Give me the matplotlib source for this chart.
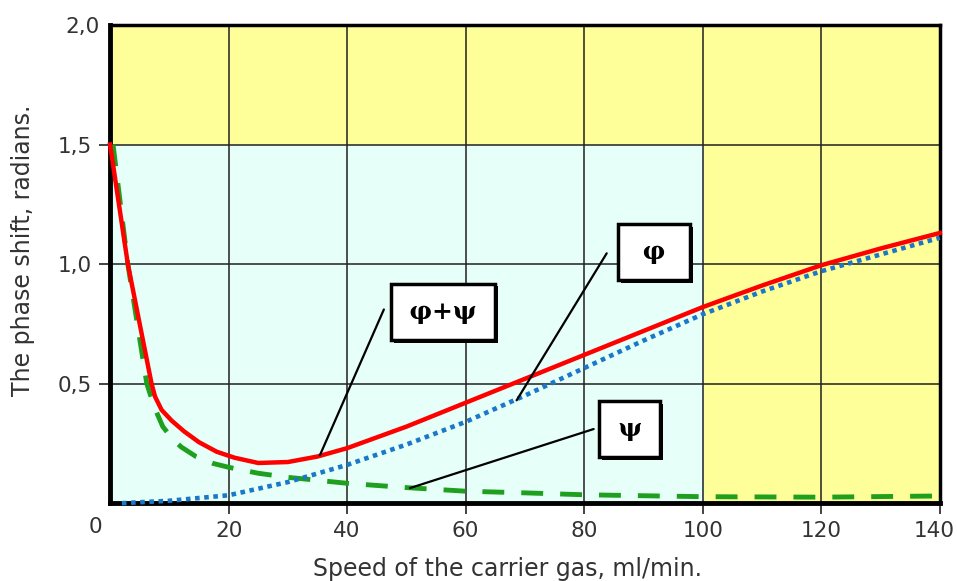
import matplotlib
matplotlib.use("Agg")
import matplotlib.pyplot as plt
import matplotlib.patheffects as pe
import matplotlib.transforms as mtransforms
from matplotlib.ticker import FuncFormatter

# values
speed_sum = [0, 3, 7, 7.6, 8.7, 10.4, 12.5, 15, 18, 21, 25, 30, 35, 40, 50, 60, 70, 80, 90, 100,
             110, 120, 130, 140]
phi_psi = [1.5, 1.0, 0.5, 0.445, 0.39, 0.345, 0.3, 0.255, 0.215, 0.19, 0.168, 0.172, 0.195, 0.23,
           0.32, 0.42, 0.52, 0.62, 0.72, 0.82, 0.91, 0.995, 1.065, 1.13]

speed_phi = [2, 10, 20, 30, 40, 50, 60, 70, 80, 90, 100, 110, 120, 130, 140]
phi = [0.0, 0.01, 0.033, 0.088, 0.16, 0.245, 0.34, 0.45, 0.565, 0.68, 0.79, 0.885, 0.97, 1.04, 1.11]

speed_psi = [0.5, 3, 6.2, 7.5, 8.9, 10.5, 12, 14.5, 17.4, 20, 25, 30, 40, 50, 60, 70, 80, 100, 120, 140]
psi = [1.5, 1.0, 0.5, 0.4, 0.32, 0.27, 0.235, 0.195, 0.166, 0.15, 0.125, 0.108, 0.083, 0.065, 0.05,
       0.043, 0.035, 0.027, 0.025, 0.03]

x_ticks = [20, 40, 60, 80, 100, 120, 140]
y_ticks = [0.5, 1.0, 1.5, 2.0]

# label boxes: text, box centre, leader start, point on curve
labels = [
    ("\u200aφ+ψ\u200a", (56.2, 0.80), (46.2, 0.81), (35.4, 0.20)),
    (" φ ", (91.8, 1.05), (83.8, 1.045), (68.6, 0.43)),
    ("\u200aψ\u200a", (87.7, 0.31), (81.6, 0.31), (50.6, 0.063)),
]

fig = plt.figure(figsize=(9.57, 5.81), dpi=100)
ax = fig.add_axes([0.115, 0.134, 0.867, 0.823])
ax.set_facecolor("#ffff99")
ax.axvspan(0, 100, ymin=0, ymax=0.75, color="#e6fff8", zorder=0)

ax.set_xlim(0, 140)
ax.set_ylim(0, 2.0)
ax.set_xticks(x_ticks)
ax.set_yticks(y_ticks)
ax.xaxis.set_major_formatter(FuncFormatter(lambda v, p: "%d" % v))
ax.yaxis.set_major_formatter(FuncFormatter(lambda v, p: ("%.1f" % v).replace(".", ",")))
ax.tick_params(axis="both", length=8, width=1.2, color="#222222", labelsize=15.5,
               labelcolor="#333333", direction="out")
ax.tick_params(axis="x", pad=5)
ax.tick_params(axis="y", pad=5)
ax.yaxis.get_major_ticks()[-1].tick1line.set_visible(False)

# nudge the end labels the way the reference has them
fig.canvas.draw()
ax.get_xticklabels()[-1].set_transform(
    ax.get_xticklabels()[-1].get_transform() + mtransforms.ScaledTranslation(-6 / 100, 0, fig.dpi_scale_trans))
ax.get_yticklabels()[-1].set_transform(
    ax.get_yticklabels()[-1].get_transform() + mtransforms.ScaledTranslation(8 / 100, 0, fig.dpi_scale_trans))

ax.grid(True, color="#222222", lw=1.3, alpha=0.85, zorder=1)
ax.set_axisbelow(True)
for side in ["left", "bottom"]:
    ax.spines[side].set_linewidth(3.5)
for side in ["top", "right"]:
    ax.spines[side].set_linewidth(2.5)

ax.plot(speed_psi, psi, color="#1ea01e", lw=3.5, dashes=(4.5, 3.5), zorder=3, clip_on=False)
ax.plot(speed_phi, phi, color="#1b78c8", lw=3.3, linestyle=(0, (1, 1)), zorder=3, clip_on=False)
ax.plot(speed_sum, phi_psi, color="#ff0000", lw=3.2, zorder=4, clip_on=False)

for txt, box_xy, line_start, line_end in labels:
    ax.annotate("", xy=line_end, xytext=line_start,
                arrowprops=dict(arrowstyle="-", lw=1.6, color="black", shrinkA=0, shrinkB=0),
                zorder=5)
    t = ax.text(box_xy[0], box_xy[1], txt, ha="center", va="center", fontsize=18,
                fontweight="bold", family="DejaVu Serif", zorder=6,
                bbox=dict(boxstyle="square,pad=0.65", fc="white", ec="black", lw=2.5))
    t.get_bbox_patch().set_path_effects([
        pe.withSimplePatchShadow(offset=(2, -2), shadow_rgbFace="black", alpha=1.0)])

ax.annotate("0", xy=(0, 0), xytext=(-15, -24), textcoords="offset pixels",
            ha="center", va="center", fontsize=15.5, color="#333333", annotation_clip=False)

ax.set_ylabel("The phase shift, radians.", fontsize=17, color="#333333")
ax.set_xlabel("Speed of the carrier gas, ml/min.", fontsize=17, color="#333333")
ax.yaxis.set_label_coords(-0.09, 0.529)
ax.xaxis.set_label_coords(0.479, -0.113)

fig.savefig("out.png", dpi=100)
